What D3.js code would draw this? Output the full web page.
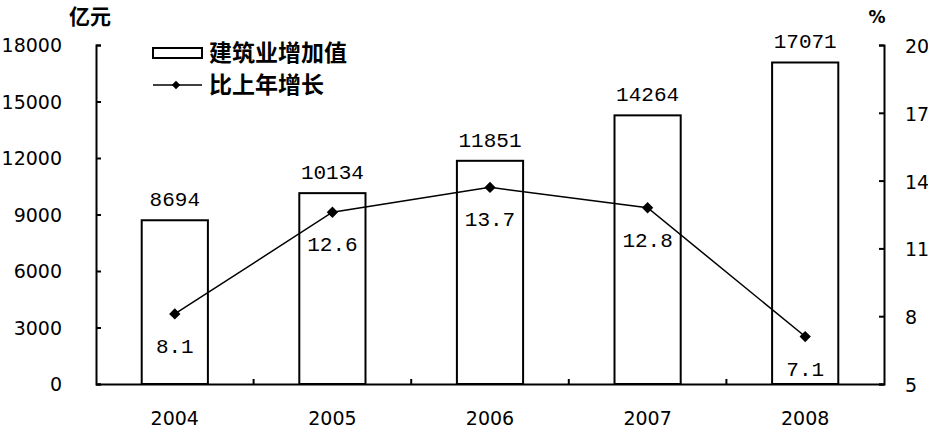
<!DOCTYPE html>
<html>
<head>
<meta charset="utf-8">
<script src="https://cdn.jsdelivr.net/npm/d3@7"></script>
<style>
  body { margin: 0; background: #fff; }
</style>
</head>
<body>
<div id="chart"></div>
<script>
// data
var years = ["2004", "2005", "2006", "2007", "2008"];
var addedValue = [8694, 10134, 11851, 14264, 17071];   // 亿元
var growth = [8.1, 12.6, 13.7, 12.8, 7.1];              // %
var leftTicks = [0, 3000, 6000, 9000, 12000, 15000, 18000];
var rightTicks = [5, 8, 11, 14, 17, 20];
var legendNames = ["建筑业增加值", "比上年增长"];

var W = 928, H = 429;
var plot = {left: 96, right: 884, top: 45, bottom: 384};

var svg = d3.select("#chart").append("svg")
  .attr("width", W).attr("height", H);

var x = d3.scaleBand().domain(years).range([plot.left, plot.right]).paddingInner(0.58).paddingOuter(0.29);
var xs = d3.scaleBand().domain(years).range([plot.left, plot.right]);
var yL = d3.scaleLinear().domain([0, 18000]).range([plot.bottom, plot.top]);
var yR = d3.scaleLinear().domain([5, 20]).range([plot.bottom, plot.top]);

var sans = "'DejaVu Sans', sans-serif";
var mono = "'Liberation Mono', 'DejaVu Sans Mono', monospace";
var cjk = "'Noto Sans CJK SC', sans-serif";

// bars
svg.selectAll("rect.bar").data(addedValue).enter().append("rect")
  .attr("class", "bar")
  .attr("x", function(d, i) { return x(years[i]); })
  .attr("y", function(d) { return yL(d); })
  .attr("width", x.bandwidth())
  .attr("height", function(d) { return yL(0) - yL(d); })
  .attr("fill", "#fff").attr("stroke", "#000").attr("stroke-width", 2);

svg.selectAll("text.barlab").data(addedValue).enter().append("text")
  .attr("class", "barlab")
  .attr("x", function(d, i) { return x(years[i]) + x.bandwidth() / 2; })
  .attr("y", function(d) { return yL(d) - 14; })
  .attr("text-anchor", "middle")
  .style("font-family", mono).style("font-size", "21px")
  .text(function(d) { return d; });

// axes
var axL = svg.append("g").attr("transform", "translate(" + plot.left + ",0)")
  .call(d3.axisRight(yL).tickValues(leftTicks).tickSize(5).tickFormat(""));
var axR = svg.append("g").attr("transform", "translate(" + plot.right + ",0)")
  .call(d3.axisLeft(yR).tickValues(rightTicks).tickSize(5).tickFormat(""));
var axB = svg.append("g").attr("transform", "translate(0," + plot.bottom + ")")
  .call(d3.axisTop(xs).tickSize(0).tickFormat(""));
[axL, axR, axB].forEach(function(g) {
  g.select(".domain").attr("stroke", "#000").attr("stroke-width", 2);
  g.selectAll(".tick line").attr("stroke", "#000").attr("stroke-width", 2);
});
// small tick marks between the categories
svg.selectAll("line.xtick").data(years.slice(1)).enter().append("line")
  .attr("class", "xtick")
  .attr("x1", function(d) { return xs(d); }).attr("x2", function(d) { return xs(d); })
  .attr("y1", plot.bottom).attr("y2", plot.bottom - 5)
  .attr("stroke", "#000").attr("stroke-width", 2);

svg.selectAll("text.lt").data(leftTicks).enter().append("text")
  .attr("class", "lt")
  .attr("x", 62).attr("y", function(d) { return yL(d) + 7; })
  .attr("text-anchor", "end")
  .style("font-family", sans).style("font-size", "19px")
  .text(function(d) { return d; });

svg.selectAll("text.rt").data(rightTicks).enter().append("text")
  .attr("class", "rt")
  .attr("x", 905).attr("y", function(d) { return yR(d) + 8; })
  .style("font-family", sans).style("font-size", "19px")
  .text(function(d) { return d; });

svg.selectAll("text.xt").data(years).enter().append("text")
  .attr("class", "xt")
  .attr("x", function(d) { return xs(d) + xs.bandwidth() / 2; })
  .attr("y", 425)
  .attr("text-anchor", "middle")
  .style("font-family", sans).style("font-size", "19px")
  .text(function(d) { return d; });

svg.append("text").attr("x", 90).attr("y", 24).attr("text-anchor", "middle")
  .style("font-family", cjk).style("font-size", "21px").style("font-weight", "bold")
  .text("亿元");
svg.append("text").attr("x", 877).attr("y", 23).attr("text-anchor", "middle")
  .style("font-family", sans).style("font-size", "17px").style("font-weight", "bold")
  .text("%");

// growth line
var line = d3.line()
  .x(function(d, i) { return xs(years[i]) + xs.bandwidth() / 2; })
  .y(function(d) { return yR(d); });
svg.append("path").datum(growth).attr("d", line)
  .attr("fill", "none").attr("stroke", "#000").attr("stroke-width", 1.5);

var diamond = d3.symbol().type(d3.symbolSquare).size(64);
svg.selectAll("path.pt").data(growth).enter().append("path")
  .attr("class", "pt")
  .attr("d", diamond)
  .attr("transform", function(d, i) {
    return "translate(" + (xs(years[i]) + xs.bandwidth() / 2) + "," + yR(d) + ") rotate(45)";
  })
  .attr("fill", "#000");

svg.selectAll("text.ptlab").data(growth).enter().append("text")
  .attr("class", "ptlab")
  .attr("x", function(d, i) { return xs(years[i]) + xs.bandwidth() / 2; })
  .attr("y", function(d) { return yR(d) + 39; })
  .attr("text-anchor", "middle")
  .style("font-family", mono).style("font-size", "21px")
  .text(function(d) { return d.toFixed(1); });

// legend
var lg = svg.append("g");
lg.append("rect").attr("x", 153).attr("y", 48).attr("width", 49).attr("height", 10)
  .attr("fill", "#fff").attr("stroke", "#000").attr("stroke-width", 2);
lg.append("line").attr("x1", 153).attr("x2", 202).attr("y1", 85).attr("y2", 85)
  .attr("stroke", "#000").attr("stroke-width", 1.5);
lg.append("path").attr("d", d3.symbol().type(d3.symbolSquare).size(36))
  .attr("transform", "translate(176,85) rotate(45)").attr("fill", "#000");
lg.selectAll("text").data(legendNames).enter().append("text")
  .attr("x", 209).attr("y", function(d, i) { return 61 + i * 32; })
  .style("font-family", cjk).style("font-size", "23px").style("font-weight", "bold")
  .text(function(d) { return d; });
</script>
</body>
</html>
